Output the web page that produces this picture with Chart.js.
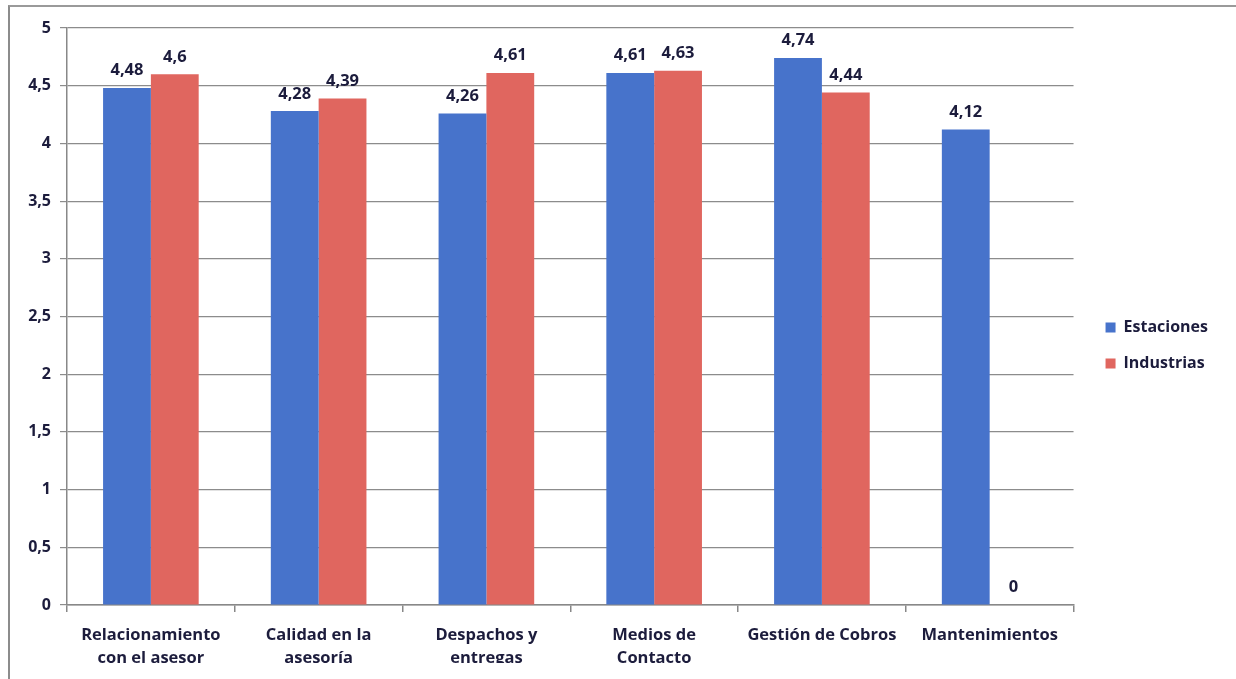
<!DOCTYPE html>
<html>
<head>
<meta charset="utf-8">
<script src="https://cdn.jsdelivr.net/npm/chart.js@4/dist/chart.umd.min.js"></script>
<style>
  html, body { margin: 0; padding: 0; background: #fff; }
  #marco {
    position: absolute;
    left: 8px; top: 5px;
    width: 1240px; height: 690px;
    border-left: 2px solid #8c8c8c;
    border-top: 2px solid #9a9a9a;
  }
  #caja { position: absolute; left: 0; top: 0; width: 1236px; height: 679px; }
</style>
</head>
<body>
<div id="marco"></div>
<div id="caja"><canvas id="grafico"></canvas></div>
<script>
// categorias del eje x (dos lineas cada una)
const categorias = [
  ['Relacionamiento', 'con el asesor'],
  ['Calidad en la', 'asesoría'],
  ['Despachos y', 'entregas'],
  ['Medios de', 'Contacto'],
  ['Gestión de Cobros'],
  ['Mantenimientos']
]

// calificaciones por segmento
const estaciones = [4.48, 4.28, 4.26, 4.61, 4.74, 4.12]
const industrias = [4.6, 4.39, 4.61, 4.63, 4.44, 0]

const colorTexto = '#1c1c3c'
const fuente = '"Open Sans", "Noto Sans", sans-serif'

// numero con coma decimal
function conComa(v) {
  return String(v).replace('.', ',')
}

// escribe el valor encima de cada barra
const etiquetas = {
  id: 'etiquetas',
  afterDatasetsDraw(chart) {
    const ctx = chart.ctx
    ctx.save()
    ctx.font = 'bold 16.5px ' + fuente
    ctx.fillStyle = colorTexto
    ctx.textAlign = 'center'
    ctx.textBaseline = 'bottom'
    chart.data.datasets.forEach((ds, i) => {
      chart.getDatasetMeta(i).data.forEach((barra, j) => {
        ctx.fillText(conComa(ds.data[j]), barra.x, barra.y - 9)
      })
    })
    ctx.restore()
  }
}

new Chart(document.getElementById('grafico'), {
  type: 'bar',
  data: {
    labels: categorias,
    datasets: [
      {
        label: 'Estaciones',
        data: estaciones,
        backgroundColor: '#4773cb'
      },
      {
        label: 'Industrias',
        data: industrias,
        backgroundColor: '#e0665f'
      }
    ]
  },
  options: {
    responsive: true,
    maintainAspectRatio: false,
    animation: false,
    datasets: {
      bar: { categoryPercentage: 0.57, barPercentage: 1 }
    },
    layout: {
      padding: { left: 10, top: 28, right: 18, bottom: 16 }
    },
    plugins: {
      legend: {
        position: 'right',
        labels: {
          boxWidth: 10,
          boxHeight: 10,
          padding: 20,
          color: colorTexto,
          font: { family: fuente, size: 16, weight: 'bold' }
        }
      },
      tooltip: { enabled: false }
    },
    scales: {
      x: {
        border: { color: '#888', width: 1.5 },
        grid: { drawOnChartArea: false, tickLength: 7, color: '#888', lineWidth: 1.5 },
        ticks: {
          color: colorTexto,
          padding: 12,
          font: { family: fuente, size: 16.5, weight: 'bold', lineHeight: 1.4 }
        },
        afterFit(scale) { scale.height = 58 }
      },
      y: {
        min: 0,
        max: 5,
        border: { color: '#888', width: 1.5 },
        grid: { color: '#8c8c8c', lineWidth: 1.2, tickLength: 7 },
        ticks: {
          stepSize: 0.5,
          color: colorTexto,
          padding: 9,
          font: { family: fuente, size: 16, weight: 'bold' },
          callback: v => conComa(v)
        },
        afterFit(scale) { scale.width = 57 }
      },
      // separacion entre el area de barras y la leyenda
      hueco: {
        position: 'right',
        display: true,
        grid: { display: false },
        border: { display: false },
        ticks: { display: false },
        afterFit(scale) { scale.width = 12 }
      }
    }
  },
  plugins: [etiquetas]
})
</script>
</body>
</html>
